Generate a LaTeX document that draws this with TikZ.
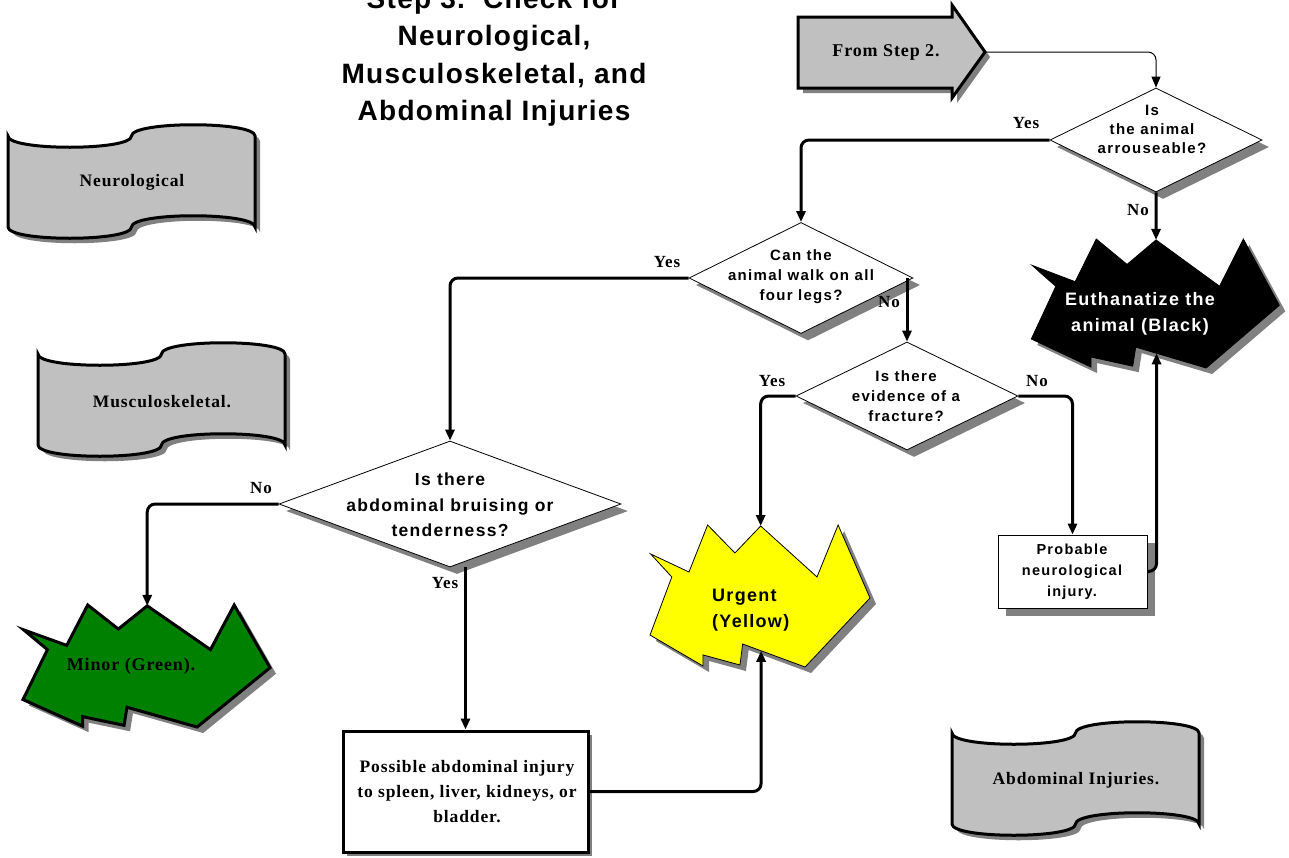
\documentclass[tikz,border=0pt]{standalone}
\usepackage{fontspec}
\setmainfont{Liberation Serif}[LetterSpace=5]
\newfontfamily\fTitle[LetterSpace=4.6]{Liberation Sans}
\newfontfamily\fBig[LetterSpace=7.4]{Liberation Sans}
\newfontfamily\fMid[LetterSpace=8.7]{Liberation Sans}
\newfontfamily\fExp[LetterSpace=7.2]{Liberation Sans}
\usetikzlibrary{arrows.meta,shapes.geometric,shadows}
\definecolor{scrollgray}{HTML}{C0C0C0}
\definecolor{shadowgray}{HTML}{808080}
\definecolor{mgreen}{HTML}{008000}
\definecolor{myellow}{HTML}{FFFF00}
\tikzset{
  scrollshape/.style={insert path={(0,11) .. controls (0,26) and (123.5,26) .. (123.5,11) .. controls (123.5,-4) and (247,-4) .. (247,11) -- (247,102) .. controls (247,87) and (123.5,87) .. (123.5,102) .. controls (123.5,117) and (0,117) .. (0,102) -- cycle}},
  explshape/.style={insert path={(0.503,0.007) -- (0.386,0.197) -- (0.262,0) -- (0.177,0.331) -- (0.003,0.204) -- (0.099,0.366) -- (0,0.775) -- (0.241,0.993) -- (0.241,0.915) -- (0.409,0.986) -- (0.421,0.838) -- (0.705,1) -- (1,0.514) -- (0.855,0) -- (0.759,0.366) -- cycle}},
  fromshape/.style={insert path={(0,12) -- (154,12) -- (154,0) -- (187,47) -- (154,93) -- (154,83) -- (0,83) -- cycle}}
}
\newcommand\explosion[6]{%
  \begin{scope}[shift={(#2+6,#3+6)},xscale=#4,yscale=#5]
    \fill[shadowgray, explshape];
  \end{scope}
  \begin{scope}[shift={(#2,#3)},xscale=#4,yscale=#5]
    \path[#6, explshape];
    \coordinate (#1-top) at (0.503,0.007);
    \coordinate (#1-bot) at (0.505,0.886);
  \end{scope}}
\newcommand\scrollbanner[2]{%
  \fill[shadowgray, shift={(#1+5,#2+5)}, scrollshape];
  \draw[line width=3pt, fill=scrollgray, shift={(#1,#2)}, scrollshape];}
\begin{document}
\begin{tikzpicture}[x=1pt,y=-1pt,
  conn/.style={line width=3pt, rounded corners=8pt, -{Triangle[length=11pt,width=9pt]}},
  thinconn/.style={line width=1pt, rounded corners=8pt, -{Triangle[length=11pt,width=9pt]}},
  dia/.style={diamond, draw, line width=0.8pt, fill=white, inner sep=0pt,
    drop shadow={shadow xshift=7pt, shadow yshift=-7pt, fill=shadowgray, opacity=1}},
  dtxt/.style={font=\fMid\bfseries\fontsize{15}{20}\selectfont, align=center, inner sep=0pt},
  title/.style={font=\fTitle\bfseries\fontsize{28}{37}\selectfont, inner sep=0pt, anchor=base},
  lbl/.style={font=\bfseries\fontsize{17}{20}\selectfont, inner sep=0pt},
  serlbl/.style={font=\bfseries\fontsize{17.5}{25}\selectfont, inner sep=0pt, align=center},
  exptxt/.style={font=\fExp\bfseries\fontsize{18}{25.5}\selectfont, inner sep=0pt},
]
\useasboundingbox (0,0) rectangle (1289,857);

% title
\node[title] (t1) at (494,8) {Step 3.\ \ Check for};
\node[title] (t2) at (494,45) {Neurological,};
\node[title] (t3) at (494,83) {Musculoskeletal, and};
\node[title] (t4) at (494,120) {Abdominal Injuries};

% scrolls
\scrollbanner{8}{125}
\node[serlbl] (neuro) at (132,182) {Neurological};
\scrollbanner{38}{343}
\node[serlbl] (musc) at (162,402) {Musculoskeletal.};
\scrollbanner{952}{722}
\node[serlbl] (abd) at (1076,780) {Abdominal Injuries.};

% from step 2 arrow
\fill[shadowgray, shift={(803,10)}, fromshape];
\draw[line width=3pt, fill=scrollgray, shift={(798,5)}, fromshape];
\node[serlbl, font=\bfseries\fontsize{18}{22}\selectfont] (from) at (886,52) {From Step 2.};
\coordinate (fromtip) at (985,52);

% diamonds
\node[dia, minimum width=212pt, minimum height=104pt] (d1) at (1156,140) {};
\node[dtxt, font=\fMid\bfseries\fontsize{15}{19}\selectfont] (d1t) at (1152,129) {Is\\the animal\\arrouseable?};
\node[dia, minimum width=224pt, minimum height=111pt] (d2) at (801,278) {};
\node[dtxt] (d2t) at (801,277) {Can the\\animal walk on all\\four legs?};
\node[dia, minimum width=222pt, minimum height=108pt] (d4) at (907,396) {};
\node[dtxt] (d4t) at (906,396) {Is there\\evidence of a\\fracture?};
\node[dia, minimum width=342pt, minimum height=126pt] (d3) at (450,504) {};
\node[dtxt, font=\fBig\bfseries\fontsize{17.5}{25.5}\selectfont] (d3t) at (450,505) {Is there\\abdominal bruising or\\tenderness?};

% boxes
\node[draw, line width=0.8pt, fill=white, minimum width=149pt, minimum height=73pt, inner sep=0pt,
  drop shadow={shadow xshift=8pt, shadow yshift=-8pt, fill=shadowgray, opacity=1}] (prob) at (1072.5,571.5) {};
\node[dtxt, font=\fMid\bfseries\fontsize{14.5}{21}\selectfont] (probt) at (1072,572) {Probable\\neurological\\injury.};
\node[draw, line width=3pt, fill=white, minimum width=245pt, minimum height=121pt, inner sep=0pt,
  drop shadow={shadow xshift=4pt, shadow yshift=-4pt, fill=shadowgray, opacity=1}] (poss) at (465.5,791.5) {};
\node[serlbl] (posst) at (467,792) {Possible abdominal injury\\to spleen, liver, kidneys, or\\bladder.};

% explosions
\explosion{bk}{1031.3}{239}{248}{129}{fill=black, draw=black, line width=0.8pt}
\node[exptxt, text=white, align=center] (bkt) at (1140,314) {Euthanatize the\\animal (Black)};
\explosion{ur}{650}{525}{220}{142}{fill=myellow, draw=black, line width=0.8pt}
\node[exptxt, align=left, anchor=west] (urt) at (712,610) {Urgent\\(Yellow)};
\explosion{gr}{23}{605}{247}{122}{fill=mgreen, draw=black, line width=3pt}
\node[serlbl, font=\bfseries\fontsize{18}{22}\selectfont] (grt) at (131,666) {Minor (Green).};

% connectors
\draw[thinconn] (fromtip) -| (d1.north);
\draw[conn] (d1.west) -| (d2.north);
\draw[conn] (d1.south) -- (bk-top);
\draw[conn] (d2.west) -| (d3.north);
\draw[conn] (d4.north |- d2.east) -- (d4.north);
\draw[conn] (d4.west) -| (ur-top);
\draw[conn] (d4.east) -| (prob.north);
\draw[conn] (prob.east) -| (bk-bot);
\draw[conn] (d3.west) -| (gr-top);
\draw[conn] (poss.north |- d3.south) -- (poss.north);
\draw[conn] (poss.east) -| (ur-bot);

% labels
\node[lbl] (y1) at (1026,123) {Yes};
\node[lbl] (n1) at (1138,210) {No};
\node[lbl] (y2) at (667,262) {Yes};
\node[lbl] (n2) at (889,302) {No};
\node[lbl] (y4) at (772,381) {Yes};
\node[lbl] (n4) at (1037,381) {No};
\node[lbl] (n3) at (261,488) {No};
\node[lbl] (y3) at (445,583) {Yes};
\end{tikzpicture}
\end{document}
